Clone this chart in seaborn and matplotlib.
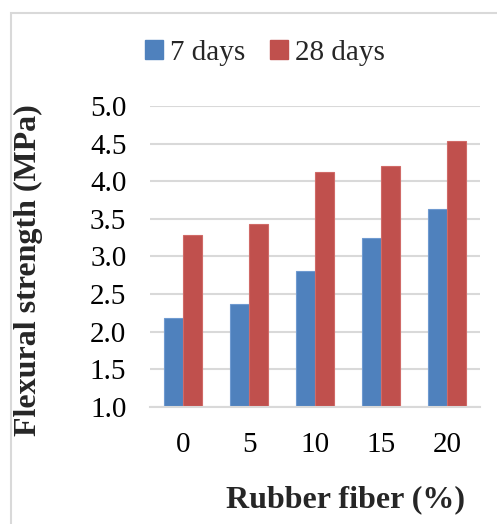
import matplotlib
matplotlib.use("Agg")
import matplotlib.pyplot as plt
import seaborn as sns
import pandas as pd
from matplotlib.patches import Rectangle, Patch

categories = ["0", "5", "10", "15", "20"]
series_names = ["7 days", "28 days"]
values_7d = [2.18, 2.37, 2.81, 3.24, 3.63]
values_28d = [3.29, 3.43, 4.12, 4.20, 4.54]
yticks = [1.0, 1.5, 2.0, 2.5, 3.0, 3.5, 4.0, 4.5, 5.0]

df = pd.DataFrame({
    "fiber": categories * 2,
    "series": [series_names[0]] * 5 + [series_names[1]] * 5,
    "value": values_7d + values_28d,
})

sns.set_theme(style="white")
plt.rcParams["font.family"] = ["Liberation Serif", "DejaVu Serif"]

W, H = 497, 524
fig = plt.figure(figsize=(W / 100, H / 100), dpi=100)
ax = fig.add_axes([150 / W, 1 - 406.7 / H, 330 / W, (406.7 - 106) / H])

palette = {"7 days": "#4F81BD", "28 days": "#C0504D"}
edges = {"7 days": "#6F9AD0", "28 days": "#D06A67"}
sns.barplot(data=df, x="fiber", y="value", hue="series", order=categories,
            hue_order=series_names, palette=palette, width=0.58, ax=ax,
            errorbar=None, legend=False, saturation=1)
for i, cont in enumerate(ax.containers):
    for p in cont:
        p.set_edgecolor(edges[series_names[i]])
        p.set_linewidth(0.8)

ax.set_ylim(1.0, 5.0)
ax.set_xlim(-0.5, 4.5)
ax.set_yticks(yticks)
ax.set_yticklabels([f"{v:.1f}" for v in yticks])
ax.yaxis.grid(True, color="#D9D9D9", linewidth=1.5)
ax.set_axisbelow(True)
for s in ["top", "right", "left"]:
    ax.spines[s].set_visible(False)
ax.spines["bottom"].set_color("#D9D9D9")
ax.spines["bottom"].set_linewidth(1.5)
ax.tick_params(axis="both", length=0, labelsize=21, colors="black")
ax.tick_params(axis="y", pad=17)
ax.tick_params(axis="x", pad=18)

ax.set_xlabel("")
ax.set_ylabel("Flexural strength (MPa)", fontsize=23, fontweight="bold")
ax.yaxis.set_label_coords(-(150 - 43) / 330, 0.5 - 0.045)
fig.text(345 / W, 1 - 500 / H, "Rubber fiber (%)", fontsize=23,
         fontweight="bold", ha="center", va="center")

handles = [Patch(facecolor=palette[n], edgecolor=palette[n], label=n) for n in series_names]
fig.legend(handles=handles, loc="center", bbox_to_anchor=(265 / W, 1 - 53 / H),
           ncol=2, frameon=False, fontsize=21, handlelength=0.6, handleheight=0.6,
           handletextpad=0.25, columnspacing=0.85)

fig.patches.append(Rectangle((10.5 / W, -0.1), 1.2, 1.1 - 13.5 / H,
                             transform=fig.transFigure, fill=False,
                             edgecolor="#D9D9D9", linewidth=1.5))

fig.savefig("out.png", dpi=100)
